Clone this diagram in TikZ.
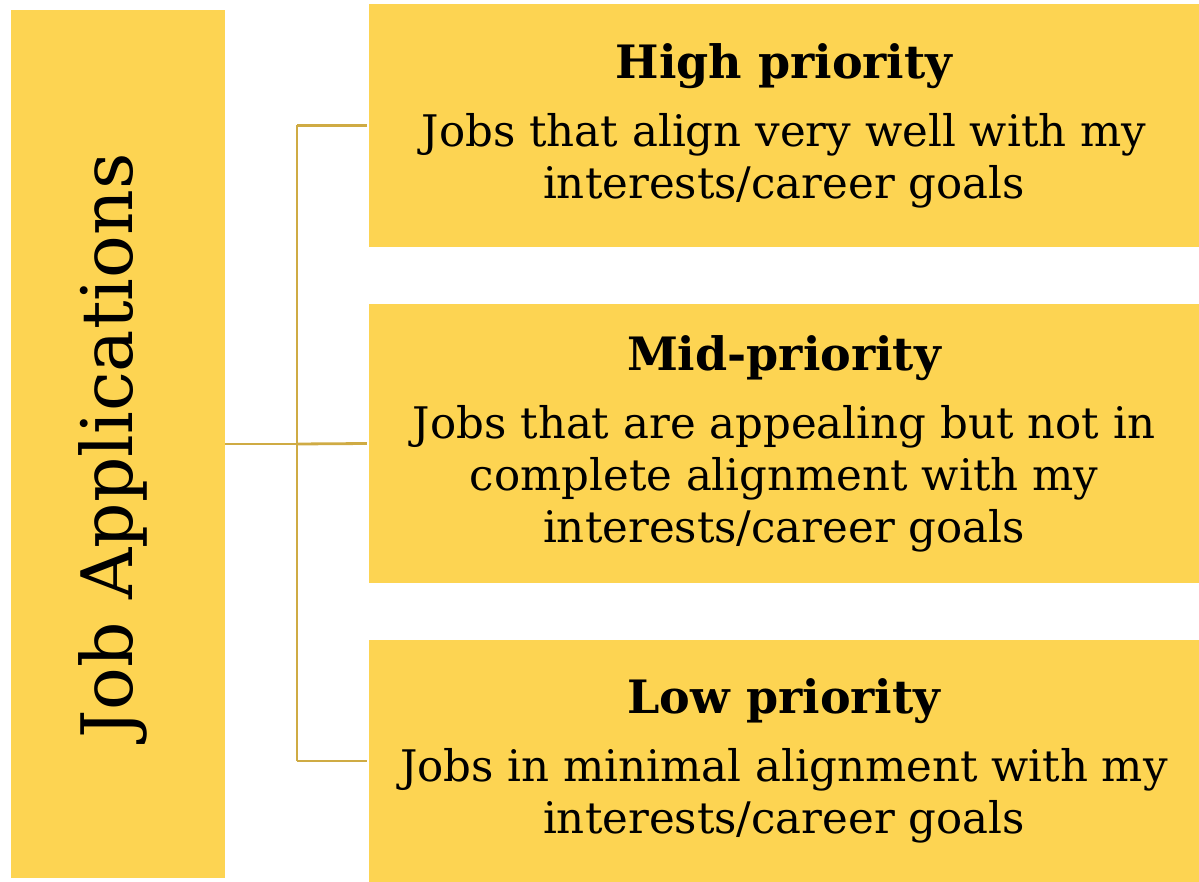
\documentclass[tikz,border=0pt]{standalone}
\usepackage{fontspec}
\setmainfont{DejaVu Serif}
\definecolor{boxfill}{HTML}{FDD452}
\definecolor{linecol}{HTML}{CFAB44}
\tikzset{
  catbox/.style={fill=boxfill, draw=none, minimum width=830pt, inner sep=0pt, align=center,
    font=\fontsize{43.5}{52}\selectfont},
  rootbox/.style={fill=boxfill, draw=none, minimum width=214pt, minimum height=868pt, inner sep=0pt},
  link/.style={draw=linecol, line width=2.8pt}
}
\newcommand{\cattitle}[1]{{\fontsize{46}{52}\selectfont\bfseries #1}}
\begin{document}
\begin{tikzpicture}[x=1pt,y=-1pt]
\useasboundingbox (0,0) rectangle (1199,882);
\node[rootbox] (root) at (118,444) {};
\node[rotate=90, font=\fontsize{71}{80}\selectfont] (roottext) at (113,446) {Job Applications};
\node[catbox, minimum height=243pt] (high) at (784,125.5)
  {\cattitle{High priority}\\[16pt]Jobs that align very well with my\\interests/career goals};
\node[catbox, minimum height=279pt] (mid) at (784,443.5)
  {\cattitle{Mid-priority}\\[16pt]Jobs that are appealing but not in\\complete alignment with my\\interests/career goals};
\node[catbox, minimum height=242pt] (low) at (784,761)
  {\cattitle{Low priority}\\[16pt]Jobs in minimal alignment with my\\interests/career goals};
\coordinate (bus) at (297,444);
\draw[link] (root.east |- bus) -- (bus);
\draw[link] (bus |- high.west) -- (bus |- low.west);
\draw[link] (bus |- high.west) -- ([xshift=-2pt]high.west);
\draw[link] (bus) -- ([xshift=-2pt]mid.west);
\draw[link] (bus |- low.west) -- ([xshift=-2pt]low.west);
\end{tikzpicture}
\end{document}
